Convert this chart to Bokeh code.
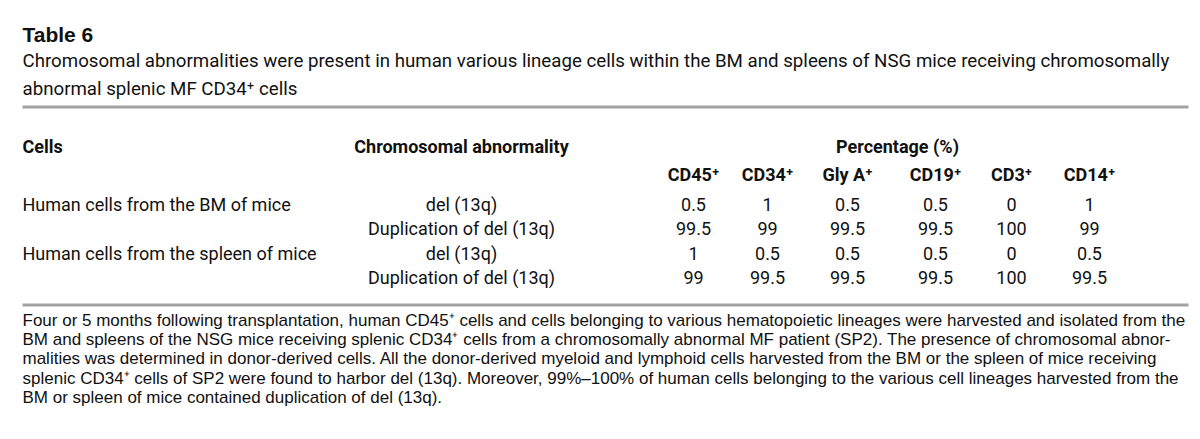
from bokeh.plotting import figure
from bokeh.models import Range1d
from bokeh.core.properties import value
from bokeh.embed import file_html
from bokeh.resources import INLINE

# ---------------- data ----------------
table_title = "Table 6"
caption_lines = [
    "Chromosomal abnormalities were present in human various lineage cells within the BM and spleens of NSG mice receiving chromosomally",
    "abnormal splenic MF CD34⁺ cells",
]
header_cells = "Cells"
header_abn = "Chromosomal abnormality"
header_pct = "Percentage (%)"
markers = ["CD45⁺", "CD34⁺", "Gly A⁺", "CD19⁺", "CD3⁺", "CD14⁺"]
cell_groups = ["Human cells from the BM of mice", "", "Human cells from the spleen of mice", ""]
abnormalities = ["del (13q)", "Duplication of del (13q)", "del (13q)", "Duplication of del (13q)"]
cd45 = [0.5, 99.5, 1, 99]
cd34 = [1, 99, 0.5, 99.5]
glya = [0.5, 99.5, 0.5, 99.5]
cd19 = [0.5, 99.5, 0.5, 99.5]
cd3 = [0, 100, 0, 100]
cd14 = [1, 99, 0.5, 99.5]
footnote_lines = [
    "Four or 5 months following transplantation, human CD45⁺ cells and cells belonging to various hematopoietic lineages were harvested and isolated from the",
    "BM and spleens of the NSG mice receiving splenic CD34⁺ cells from a chromosomally abnormal MF patient (SP2). The presence of chromosomal abnor-",
    "malities was determined in donor-derived cells. All the donor-derived myeloid and lymphoid cells harvested from the BM or the spleen of mice receiving",
    "splenic CD34⁺ cells of SP2 were found to harbor del (13q). Moreover, 99%–100% of human cells belonging to the various cell lineages harvested from the",
    "BM or spleen of mice contained duplication of del (13q).",
]

# ---------------- layout ----------------
W, H = 1190, 423
p = figure(width=W, height=H, output_backend="svg", toolbar_location=None,
           x_range=Range1d(0, W), y_range=Range1d(8 + H, 8),
           x_axis_location=None, y_axis_location=None, min_border=0,
           background_fill_color="white", border_fill_color="white")
p.outline_line_color = None
p.grid.visible = False

COND = value("Roboto")
SANS = value("Liberation Sans")
INK = "#111111"

def txt(x, y, t, size, font, style="normal", align="left"):
    p.text(x=x, y=y, text=t, text_font=font, text_font_size=value(f"{size}px"),
           text_font_style=style, text_align=align, text_baseline="alphabetic",
           text_color=INK)

LEFT = 22
# title and caption
txt([LEFT], [42], [table_title], 21, SANS, "bold")
cap_y = [68.5, 96.5]
txt([LEFT] * len(caption_lines), cap_y, caption_lines, 18.7, COND)

# rules
p.segment(x0=[LEFT, LEFT], y0=[114.5, 312.5], x1=[1188, 1188], y1=[114.5, 312.5],
          line_color="#a3a3a3", line_width=3)

# headers
TS = 18
txt([LEFT], [153.5], [header_cells], TS, COND, "bold")
ABN_X = 461
txt([ABN_X], [153.5], [header_abn], TS, COND, "bold", "center")
txt([897], [153.5], [header_pct], TS, COND, "bold", "center")
col_x = [693, 767, 847, 935, 1011, 1089]
txt(col_x, [182] * len(markers), markers, TS, COND, "bold", "center")

# body
row_y = [212 + 24.3 * i for i in range(len(abnormalities))]
txt([LEFT] * len(cell_groups), row_y, cell_groups, TS, COND)
txt([ABN_X] * len(abnormalities), row_y, abnormalities, TS, COND, "normal", "center")
for cx, series in zip(col_x, [cd45, cd34, glya, cd19, cd3, cd14]):
    txt([cx] * len(series), row_y, [f"{v:g}" for v in series], TS, COND, "normal", "center")

# footnote
foot_y = [327.5 + 19.4 * i for i in range(len(footnote_lines))]
txt([LEFT] * len(footnote_lines), foot_y, footnote_lines, 17, SANS)

open("out.html", "w").write(file_html(p, INLINE))
